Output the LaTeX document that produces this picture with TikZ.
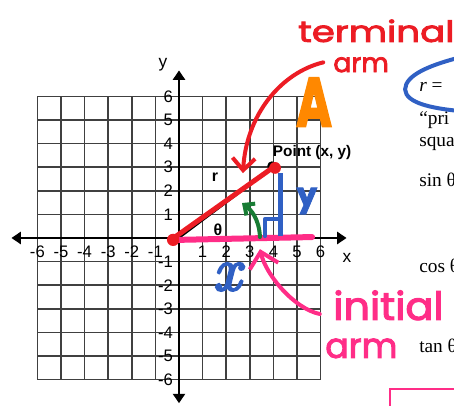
\documentclass[tikz,border=0pt]{standalone}
\usepackage{fontspec}
\usepackage{graphicx}
\setmainfont{Liberation Sans}
\newfontfamily\handfont[FakeBold=2.8]{Poppins}
\newfontfamily\curlyfont[FakeBold=4]{Latin Modern Roman}
\newfontfamily\docfont{Liberation Serif}
\usetikzlibrary{arrows.meta}
\definecolor{inkred}{RGB}{236,28,36}
\definecolor{inkpink}{RGB}{255,45,135}
\definecolor{inkblue}{RGB}{48,96,196}
\definecolor{inkgreen}{RGB}{24,124,52}
\definecolor{inkorange}{RGB}{255,136,0}
\tikzset{
	gridline/.style={draw=black!75,line width=1.1pt},
	axis/.style={line width=1.6pt,{Triangle[length=7pt,width=9pt]}-{Triangle[length=7pt,width=9pt]}},
	num/.style={inner sep=0pt,font=\fontsize{12.5}{12.5}\selectfont},
	hand/.style={inner sep=0pt,anchor=base west,font=\handfont},
	ink/.style={line width=3pt,line cap=round,line join=round},
	doc/.style={inner sep=0pt,anchor=base west,font=\docfont\fontsize{14.5}{14.5}\selectfont}
}

\begin{document}
\begin{tikzpicture}[x=17.7pt,y=17.7pt]
			\useasboundingbox (-7.585,-7.119) rectangle (11.653,10.085);
			\clip (-7.585,-7.119) rectangle (11.653,10.085);
			\draw[gridline,step=1] (-6,-6) grid (6,6);
			\draw[axis] (-7.1,0) -- (7.1,0);
			\draw[axis] (0,-7) -- (0,7.1);
			\foreach \t in {-6,...,-1,1,2,...,6}{
				\node[num,anchor=north] (xl\t) at (\t,-0.33) {\t};
				\node[num,anchor=east] (yl\t) at (-0.25,\t) {\t};
			}
			\node[num,font=\fontsize{13}{13}\selectfont] (xlab) at (7.12,-0.85) {x};
			\node[num,font=\fontsize{13}{13}\selectfont] (ylab) at (-0.68,7.33) {y};
			\coordinate (O) at (0,0);
			\coordinate (P) at (4,3);
			\draw[line width=1.5pt] (O) -- (P);
			\fill (3.94,3.05) circle (0.2);
			\node[font=\bfseries\fontsize{11.5}{11.5}\selectfont,inner sep=0pt] (pt) at (5.64,3.64) {Point (x, y)};
			\node[font=\bfseries\fontsize{12}{12}\selectfont,inner sep=0pt] (rlab) at (1.53,2.58) {r};
			\node[font=\bfseries\fontsize{12}{12}\selectfont,inner sep=0pt] (thlab) at (1.65,0.34) {θ};
			\draw[inkpink,ink,line width=4.5pt] (-0.04,-0.08) -- (5.64,0.04);
			\draw[inkred,ink,line width=3.75pt] ([shift={(-0.2,0.02)}]O) -- (P);
			\fill[inkred] (4.07,2.97) circle (0.25);
			\fill[inkred] (-0.25,-0.08) circle (0.26);
			\draw[inkblue,ink,line width=3.75pt,line cap=butt] (4.28,0.08) -- (4.28,2.75);
			\draw[inkblue,ink] (3.64,0.08) -- (3.64,0.8) -- (4.24,0.8);
			\coordinate (gbase) at (3.43,0.04);
			\coordinate (gtip) at (2.67,1.48);
			\draw[inkgreen,ink,-{Straight Barb[length=6pt,width=11pt]}] (gbase) .. controls (3.4,0.8) and (3.05,1.2) .. (gtip);
			\node[hand,inkblue,anchor=center,font=\handfont\bfseries\fontsize{24}{24}\selectfont] (ylet) at (5.42,1.57) {y};
			\node[inkblue,inner sep=0pt,font=\curlyfont\itshape\fontsize{46}{46}\selectfont] (xlet) at (2.03,-1.65) {x};
			\node[hand,inkorange,anchor=center,font=\handfont\bfseries\fontsize{52}{52}\selectfont] (bigA) at (5.72,5.76) {\scalebox{0.7}[1]{A}};
			\node[hand,inkred,font=\handfont\fontsize{22}{22}\selectfont] (termR) at (5.04,8.31) {\scalebox{1.27}[1]{terminal}};
			\node[hand,inkred,font=\handfont\fontsize{20}{20}\selectfont] (armR) at (6.53,7.03) {arm};
			\coordinate (redtip) at (2.71,2.75);
			\draw[inkred,ink,-{Straight Barb[length=9pt,width=17pt]}] ([xshift=-7.4pt,yshift=1.8pt]armR.west) .. controls (4.3,7.0) and (2.85,5.2) .. (redtip);
			\node[hand,inkpink,font=\handfont\fontsize{29}{29}\selectfont] (initP) at (6.53,-3.47) {\scalebox{1.07}[1]{initial}};
			\node[hand,inkpink,font=\handfont\fontsize{26}{26}\selectfont] (armP) at (6.19,-5.08) {arm};
			\coordinate (pinktip) at (3.43,-0.47);
			\draw[inkpink,ink,-{Straight Barb[length=11pt,width=22pt]}] ([xshift=-10pt,yshift=-6.5pt]initP.west) .. controls (4.9,-3.0) and (3.7,-1.6) .. (pinktip);
			\node[doc] (d1) at (10.17,6.19) {\itshape r\upshape{} =};
			\node[doc] (d2) at (10.17,4.79) {“pri};
			\node[doc] (d3) at (10.17,3.86) {squa};
			\node[doc] (d4) at (10.17,2.20) {sin θ};
			\node[doc] (d5) at (10.17,-1.48) {cos θ};
			\node[doc] (d6) at (10.17,-4.87) {tan θ};
			\draw[inkblue,ink] (11.7,7.6) .. controls (10.6,7.3) and (9.6,6.9) .. (9.58,6.3) .. controls (9.6,5.7) and (10.8,5.5) .. (11.7,5.4);
			\draw[inkpink,line width=1.6pt] (8.94,-7.5) -- (8.94,-6.40) -- (12,-6.40);
		\end{tikzpicture}
\end{document}
